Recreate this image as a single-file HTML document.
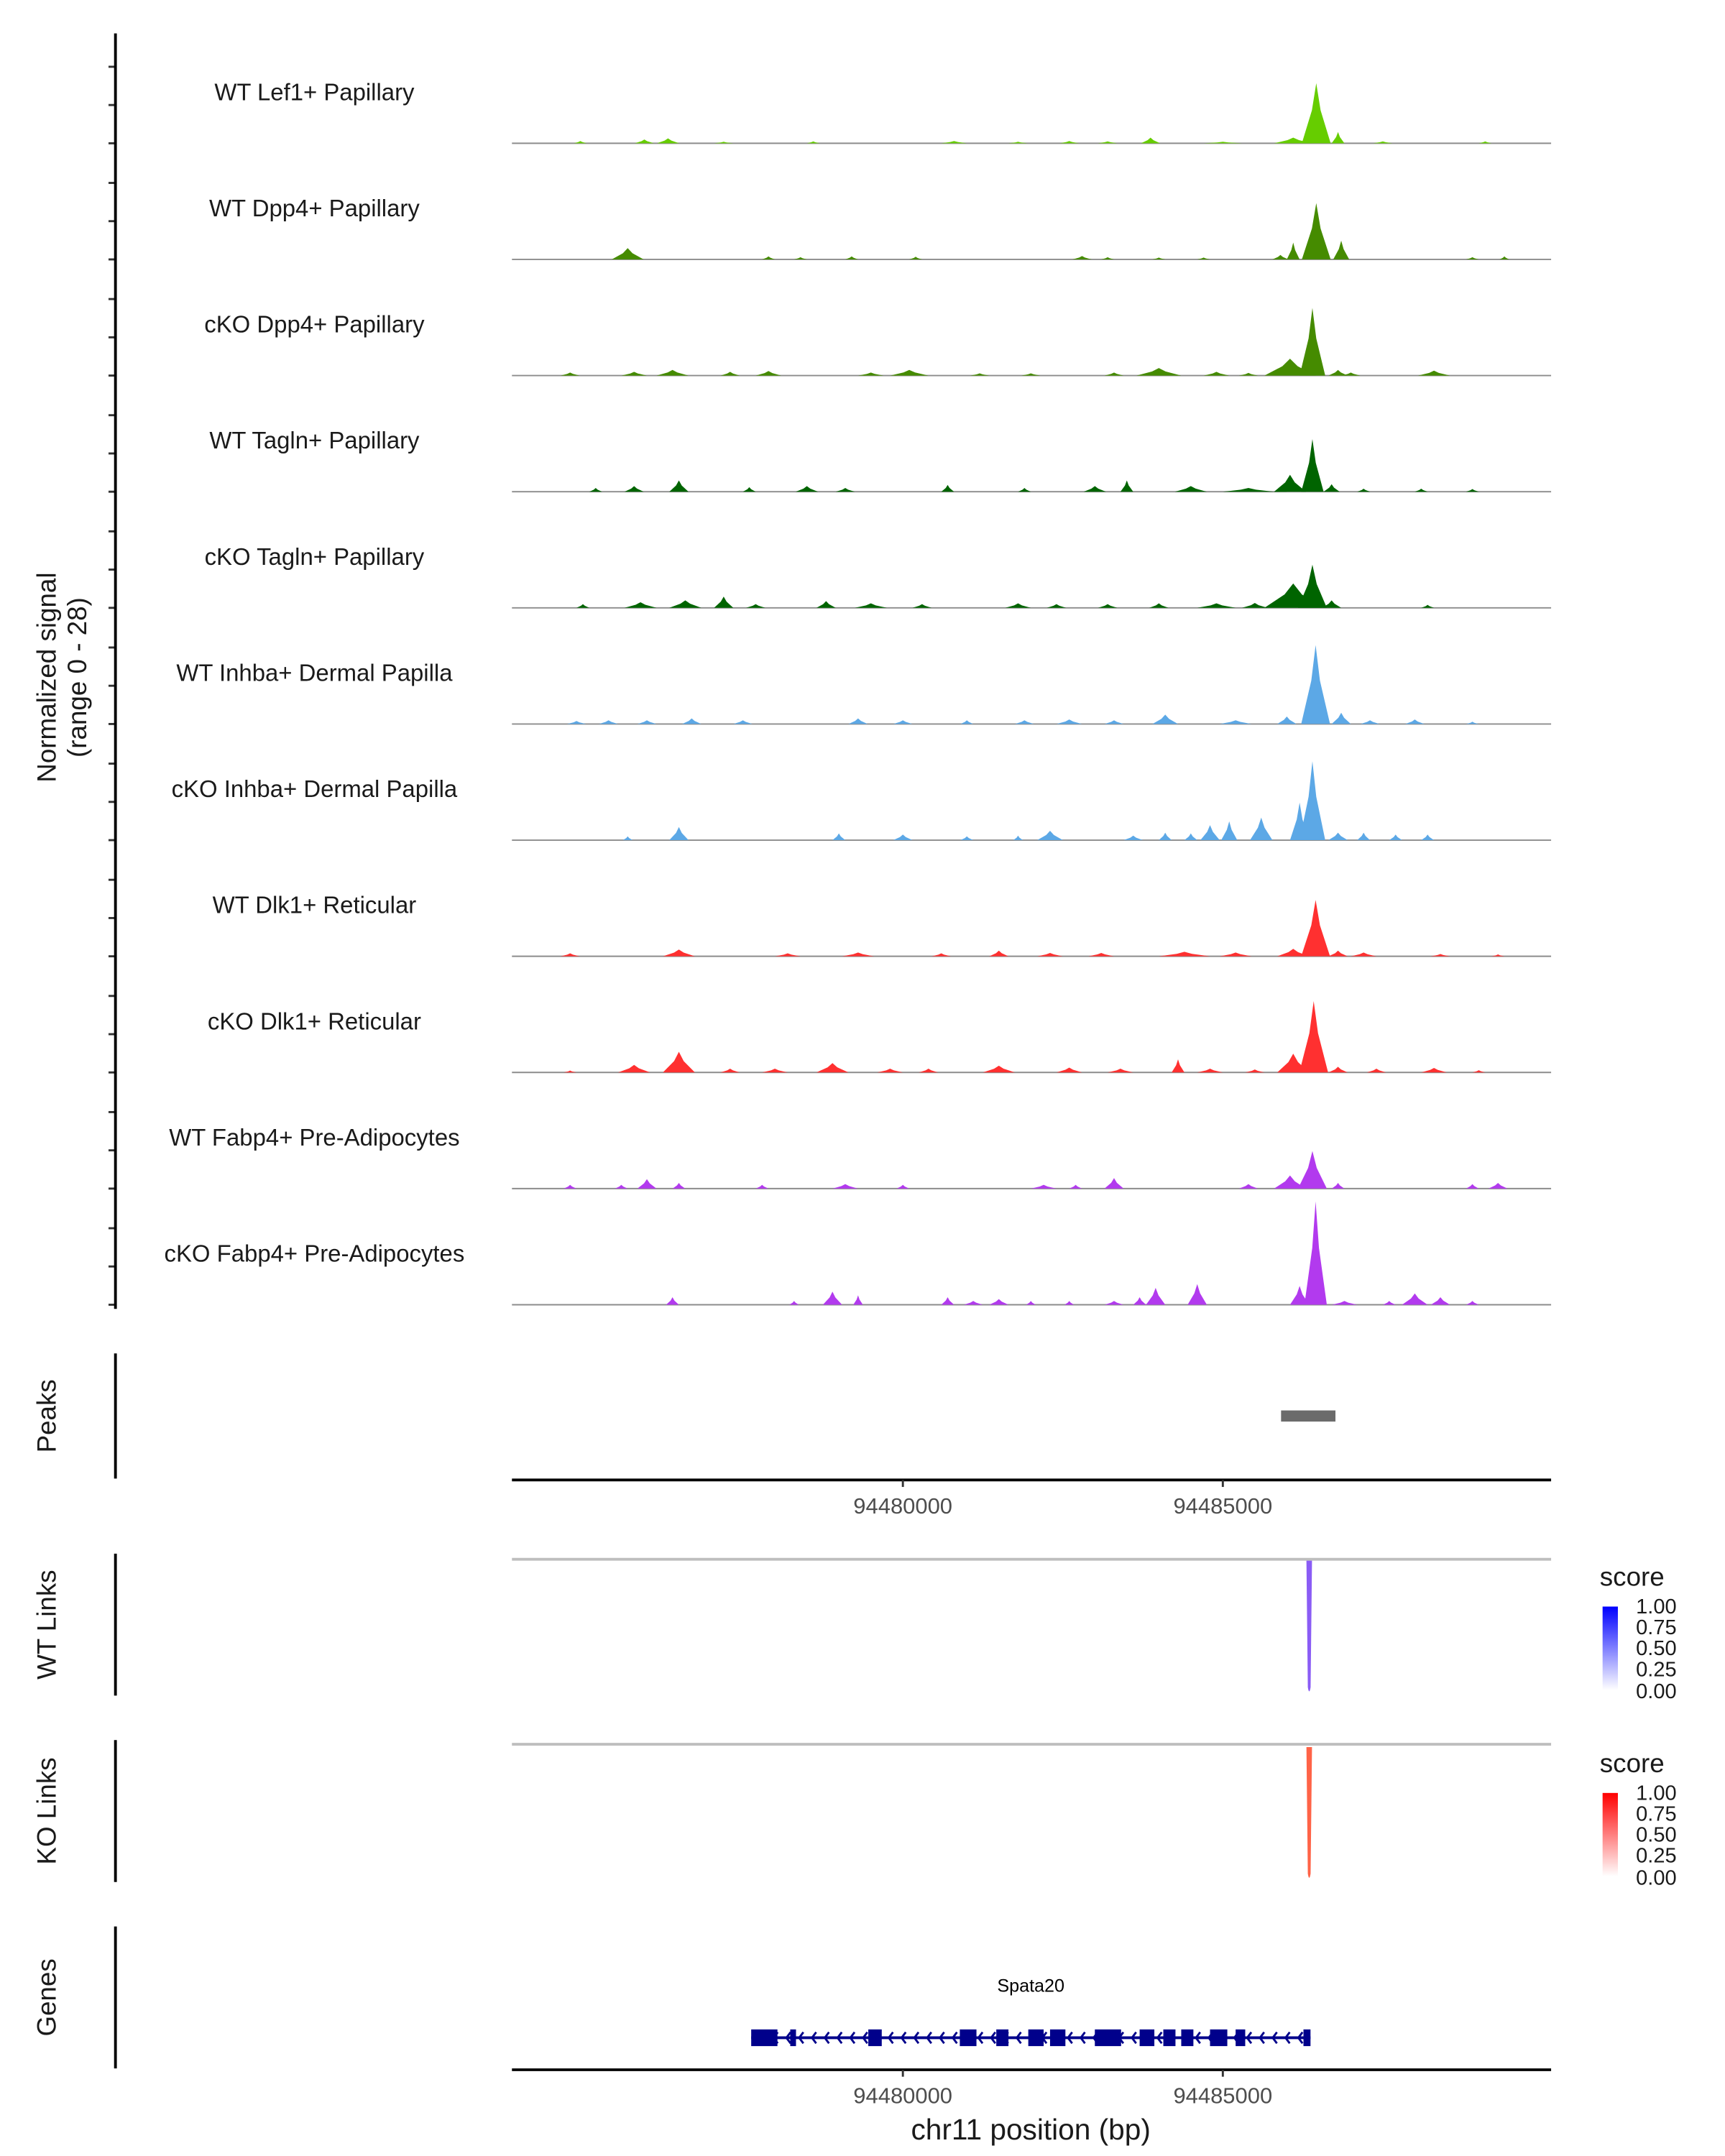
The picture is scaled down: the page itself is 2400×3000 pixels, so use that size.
<!DOCTYPE html>
<html><head><meta charset="utf-8"><style>
html,body{margin:0;padding:0;background:#fff;}
svg{display:block;font-family:"Liberation Sans","DejaVu Sans",sans-serif;}
</style></head><body>
<svg id="chart" width="2400" height="3000" viewBox="0 0 1240 1550" xmlns="http://www.w3.org/2000/svg">
<defs>
<linearGradient id="gblue" x1="0" y1="1" x2="0" y2="0"><stop offset="0" stop-color="#ffffff"/><stop offset="1" stop-color="#0000ff"/></linearGradient>
<linearGradient id="gred" x1="0" y1="1" x2="0" y2="0"><stop offset="0" stop-color="#ffffff"/><stop offset="1" stop-color="#ff0000"/></linearGradient>
</defs>
<g id="tracks"></g>
<text transform="translate(40,487) rotate(-90)" text-anchor="middle" font-size="19" fill="#1a1a1a"><tspan x="0" dy="0">Normalized signal</tspan><tspan x="0" dy="22">(range 0 - 28)</tspan></text>
<line x1="83" y1="24" x2="83" y2="941" stroke="#000" stroke-width="2"/>

<!-- Peaks panel -->
<text transform="translate(40,1018) rotate(-90)" text-anchor="middle" font-size="19" fill="#1a1a1a">Peaks</text>
<line x1="83" y1="973" x2="83" y2="1063" stroke="#000" stroke-width="2"/>
<g id="peaks"></g>
<g id="xaxis1"></g>

<!-- WT links -->
<text transform="translate(40,1168) rotate(-90)" text-anchor="middle" font-size="19" fill="#1a1a1a">WT Links</text>
<line x1="83" y1="1117" x2="83" y2="1219" stroke="#000" stroke-width="2"/>
<line x1="368" y1="1121" x2="1115" y2="1121" stroke="#bebebe" stroke-width="2"/>
<g id="wtlinks"></g>
<g>
<text x="1150" y="1140" font-size="19" fill="#1a1a1a">score</text>
<rect x="1152" y="1155" width="11" height="60" fill="url(#gblue)"/>
<text x="1176" y="1160" font-size="15" fill="#1a1a1a">1.00</text>
<text x="1176" y="1175" font-size="15" fill="#1a1a1a">0.75</text>
<text x="1176" y="1190" font-size="15" fill="#1a1a1a">0.50</text>
<text x="1176" y="1205" font-size="15" fill="#1a1a1a">0.25</text>
<text x="1176" y="1221" font-size="15" fill="#1a1a1a">0.00</text>
</g>

<!-- KO links -->
<text transform="translate(40,1302) rotate(-90)" text-anchor="middle" font-size="19" fill="#1a1a1a">KO Links</text>
<line x1="83" y1="1251" x2="83" y2="1353" stroke="#000" stroke-width="2"/>
<line x1="368" y1="1254" x2="1115" y2="1254" stroke="#bebebe" stroke-width="2"/>
<g id="kolinks"></g>
<g>
<text x="1150" y="1274" font-size="19" fill="#1a1a1a">score</text>
<rect x="1152" y="1289" width="11" height="60" fill="url(#gred)"/>
<text x="1176" y="1294" font-size="15" fill="#1a1a1a">1.00</text>
<text x="1176" y="1309" font-size="15" fill="#1a1a1a">0.75</text>
<text x="1176" y="1324" font-size="15" fill="#1a1a1a">0.50</text>
<text x="1176" y="1339" font-size="15" fill="#1a1a1a">0.25</text>
<text x="1176" y="1355" font-size="15" fill="#1a1a1a">0.00</text>
</g>

<!-- Genes -->
<text transform="translate(40,1436) rotate(-90)" text-anchor="middle" font-size="19" fill="#1a1a1a">Genes</text>
<line x1="83" y1="1385" x2="83" y2="1487" stroke="#000" stroke-width="2"/>
<g id="genes"></g>
<g id="xaxis2"></g>
<text x="741" y="1538" text-anchor="middle" font-size="21" fill="#1a1a1a">chr11 position (bp)</text>
</svg>
<script>
// ---- data (positions in kb offset from 94470000) ----
const trackNames = ["WT Lef1+ Papillary","WT Dpp4+ Papillary","cKO Dpp4+ Papillary","WT Tagln+ Papillary","cKO Tagln+ Papillary","WT Inhba+ Dermal Papilla","cKO Inhba+ Dermal Papilla","WT Dlk1+ Reticular","cKO Dlk1+ Reticular","WT Fabp4+ Pre-Adipocytes","cKO Fabp4+ Pre-Adipocytes"];
const trackColors = ["#66cd00","#458b00","#458b00","#006400","#006400","#5ca8e6","#5ca8e6","#ff3030","#ff3030","#b23aee","#b23aee"];
// each peak: [center kb, height (signal units), width kb]
const peaks0 = [[16.46,16,0.45],[16.8,3,0.2],[16.1,1.5,0.6],[13.87,1.5,0.3],[6.33,1.3,0.35],[5.96,1,0.3],[4.96,0.6,0.2],[8.6,0.5,0.2],[10.8,0.6,0.4],[12.6,0.6,0.3],[13.2,0.5,0.3],[17.5,0.5,0.3],[19.1,0.5,0.2],[15.0,0.4,0.6],[7.2,0.4,0.3],[11.8,0.4,0.3]];
const peaks1 = [[16.46,15,0.45],[16.85,5,0.25],[16.1,4.5,0.2],[15.9,1.2,0.25],[5.7,3,0.5],[7.9,0.8,0.2],[8.4,0.6,0.2],[9.2,0.8,0.2],[10.2,0.7,0.2],[12.8,0.9,0.3],[13.2,0.6,0.2],[14.0,0.5,0.2],[14.7,0.5,0.2],[18.9,0.6,0.2],[19.4,0.8,0.15]];
const peaks2 = [[16.4,18,0.4],[16.05,4.5,0.8],[16.8,1.5,0.3],[4.8,0.8,0.3],[5.8,1,0.4],[6.4,1.5,0.5],[7.3,1,0.3],[7.9,1.2,0.4],[9.5,0.8,0.4],[10.1,1.5,0.6],[11.2,0.6,0.3],[12.0,0.6,0.3],[13.3,0.8,0.3],[14.0,2,0.7],[14.9,1,0.4],[15.4,0.7,0.3],[17.0,0.8,0.3],[18.3,1.3,0.5]];
const peaks3 = [[16.4,14,0.35],[16.05,4.5,0.5],[16.7,2,0.25],[5.2,1,0.2],[5.8,1.5,0.3],[6.5,3,0.3],[7.6,1.2,0.2],[8.5,1.5,0.35],[9.1,1,0.3],[10.7,1.8,0.2],[11.9,1,0.2],[13.0,1.5,0.35],[13.5,3,0.2],[14.5,1.5,0.5],[15.4,1,0.8],[15.9,1,0.2],[17.2,0.8,0.2],[18.1,0.8,0.2],[18.9,0.7,0.2]];
const peaks4 = [[16.4,11.5,0.45],[16.1,6.5,0.9],[16.7,2,0.3],[5.0,1,0.2],[5.9,1.5,0.5],[6.6,2,0.5],[7.2,3,0.3],[7.7,1,0.3],[8.8,1.8,0.3],[9.5,1.2,0.5],[10.3,1,0.3],[11.8,1.2,0.4],[12.4,1,0.3],[13.2,1,0.3],[14.0,1.2,0.3],[14.9,1.2,0.6],[15.5,1.3,0.4],[18.2,0.8,0.2]];
const peaks5 = [[16.45,21,0.45],[16.85,3,0.3],[16.0,2,0.3],[4.9,0.8,0.3],[5.4,1,0.3],[6.0,1,0.3],[6.7,1.5,0.3],[7.5,1,0.3],[9.3,1.5,0.3],[10.0,1,0.3],[11.0,1,0.2],[11.9,1,0.3],[12.6,1.2,0.4],[13.3,1,0.3],[14.1,2.5,0.4],[15.2,1,0.5],[17.3,1,0.3],[18.0,1.2,0.3],[18.9,0.6,0.2]];
const peaks6 = [[16.4,21,0.4],[16.2,10,0.3],[15.6,6,0.35],[15.1,5,0.25],[16.8,2,0.3],[5.7,1,0.15],[6.5,3.5,0.3],[9.0,1.8,0.2],[10.0,1.5,0.3],[11.0,1,0.2],[11.8,1.2,0.15],[12.3,2.5,0.4],[13.6,1.2,0.3],[14.1,2,0.2],[14.5,1.8,0.2],[14.8,4,0.3],[17.2,2,0.2],[17.7,1.5,0.2],[18.2,1.5,0.2]];
const peaks7 = [[16.45,15,0.45],[16.1,2,0.5],[16.8,1.5,0.3],[4.8,0.8,0.3],[6.5,1.8,0.5],[8.2,0.8,0.4],[9.3,1,0.5],[10.6,0.8,0.3],[11.5,1.5,0.3],[12.3,0.9,0.4],[13.1,0.9,0.4],[14.4,1.2,0.8],[15.2,1,0.5],[17.2,1,0.4],[18.4,0.6,0.3],[19.3,0.5,0.2]];
const peaks8 = [[16.42,19,0.45],[16.1,5,0.5],[16.8,1.5,0.3],[4.8,0.5,0.2],[5.8,2,0.5],[6.5,5.5,0.5],[7.3,1,0.3],[8.0,1,0.4],[8.9,2.5,0.5],[9.8,1,0.4],[10.4,1,0.3],[11.5,1.8,0.5],[12.6,1.3,0.4],[13.4,1,0.4],[14.3,3.5,0.2],[14.8,1,0.4],[15.5,0.8,0.3],[17.4,1,0.3],[18.3,1.2,0.4],[19.0,0.6,0.2]];
const peaks9 = [[16.4,10,0.45],[16.05,3.5,0.5],[16.8,1.5,0.2],[4.8,1,0.2],[5.6,1,0.2],[6.0,2.5,0.3],[6.5,1.5,0.2],[7.8,1,0.2],[9.1,1.2,0.4],[10.0,1,0.2],[12.2,1,0.4],[12.7,1,0.2],[13.3,2.8,0.3],[15.4,1.2,0.3],[18.9,1.2,0.2],[19.3,1.5,0.3]];
const peaks10 = [[16.45,27.5,0.35],[16.2,5,0.3],[14.6,5.5,0.3],[13.95,4.5,0.3],[13.7,2,0.2],[13.3,1,0.3],[6.4,2,0.2],[8.3,1,0.15],[8.9,3.5,0.3],[9.3,2.5,0.15],[10.7,2,0.2],[11.1,1,0.3],[11.5,1.5,0.3],[12.0,1,0.15],[12.6,1,0.15],[16.9,1,0.4],[17.6,1,0.2],[18.0,3,0.4],[18.4,2,0.3],[18.9,1,0.2]];
const allPeaks = [peaks0,peaks1,peaks2,peaks3,peaks4,peaks5,peaks6,peaks7,peaks8,peaks9,peaks10];
const peakRegion = [[15.91,16.76]];
const wtLinks = [[16.35,1.0]];
const koLinks = [[16.35,1.0]];
const exons = [[7.63,8.04],[8.24,8.33],[9.46,9.67],[10.89,11.15],[11.46,11.65],[11.96,12.20],[12.30,12.54],[13.00,13.41],[13.70,13.93],[14.07,14.26],[14.35,14.54],[14.80,15.07],[15.20,15.35],[16.26,16.37]];
const geneSpan = [7.63,16.37];
const xTicks = [94480000,94485000];
const xTickLabels = ["94480000","94485000"];

// ---- scales ----
const BASE = 94470000;
const X0 = 368, X1 = 1115, BP0 = 94473891, BP1 = 94490130;
function xs(bp){ return X0 + (bp-BP0)/(BP1-BP0)*(X1-X0); }
function xk(kb){ return xs(BASE + kb*1000); }
const PX_PER_UNIT = 2.7;
const NS = "http://www.w3.org/2000/svg";
function mk(tag, attrs, parent){ const e=document.createElementNS(NS,tag); for(const k in attrs) e.setAttribute(k,attrs[k]); parent.appendChild(e); return e; }

const tracks = document.getElementById('tracks');
const pitch = 83.5;
for(let t=0;t<trackNames.length;t++){
  const base = 103 + t*pitch;
  const g = mk('g',{},tracks);
  
  
  for(let k=0;k<3;k++){
    const tk = mk('line',{x1:78,x2:83,y1:base-k*27.5,y2:base-k*27.5,stroke:'#333','stroke-width':1.5},g);
    
    
  }
  const lab = mk('text',{x:226,y:base-31,'text-anchor':'middle','font-size':17,fill:'#1a1a1a'},g);
  lab.textContent = trackNames[t];
  
  
  const bl = mk('line',{x1:X0,x2:X1,y1:base,y2:base,stroke:'#8c8c8c','stroke-width':1},g);
  
  
  for(const p of allPeaks[t]){
    const cx = xk(p[0]), h = p[1]*PX_PER_UNIT, w = xk(p[0]+p[2]/2)-xk(p[0]-p[2]/2);
    const pts = [[cx-w/2,base],[cx-w*0.15,base-h*0.55],[cx,base-h],[cx+w*0.15,base-h*0.55],[cx+w/2,base]].map(a=>a.join(',')).join(' ');
    const pg = mk('polygon',{points:pts,fill:trackColors[t]},g);
    
    
  }
}

// peaks
const pk = document.getElementById('peaks');
for(const r of peakRegion){
  const rc = mk('rect',{x:xk(r[0]),y:1014,width:xk(r[1])-xk(r[0]),height:8,fill:'#6b6b6b'},pk);
  
  
}

function drawAxis(id, y, labY){
  const g = document.getElementById(id);
  mk('line',{x1:X0,x2:X1,y1:y,y2:y,stroke:'#000','stroke-width':2},g);
  xTicks.forEach((v,i)=>{
    const x = xs(v);
    mk('line',{x1:x,x2:x,y1:y,y2:y+5,stroke:'#333','stroke-width':1.5},g);
    const tx = mk('text',{x:x,y:labY,'text-anchor':'middle','font-size':16,fill:'#4d4d4d'},g);
    tx.textContent = xTickLabels[i];
    
    
  });
}
drawAxis('xaxis1',1064,1088);
drawAxis('xaxis2',1488,1512);

function drawLinks(id, data, top, bottom, color){
  const g = document.getElementById(id);
  for(const l of data){
    const x = xk(l[0]);
    const depth = (bottom-top)*l[1];
    const p = mk('path',{d:`M${x-2},${top} L${x-1},${top+depth-4} Q${x},${top+depth+2} ${x+1},${top+depth-4} L${x+2},${top} Z`,fill:color},g);
    
    
  }
}
drawLinks('wtlinks',wtLinks,1122,1217,'#8a5cf5');
drawLinks('kolinks',koLinks,1256,1351,'#ff6347');

// genes
const gg = document.getElementById('genes');
const gname = mk('text',{x:741,y:1432,'text-anchor':'middle','font-size':13,fill:'#000'},gg);
gname.textContent = 'Spata20';


mk('line',{x1:xk(geneSpan[0]),x2:xk(geneSpan[1]),y1:1465,y2:1465,stroke:'#00008b','stroke-width':2},gg);
for(let kb=geneSpan[0]+0.15; kb<geneSpan[1]-0.1; kb+=0.2){
  const x = xk(kb);
  mk('polyline',{points:`${x+3},${1461} ${x},${1465} ${x+3},${1469}`,fill:'none',stroke:'#00008b','stroke-width':1.5},gg);
}
for(const e of exons){
  const r = mk('rect',{x:xk(e[0]),y:1459,width:Math.max(2,xk(e[1])-xk(e[0])),height:12,fill:'#00008b'},gg);
  
  
}
</script>
</body></html>
